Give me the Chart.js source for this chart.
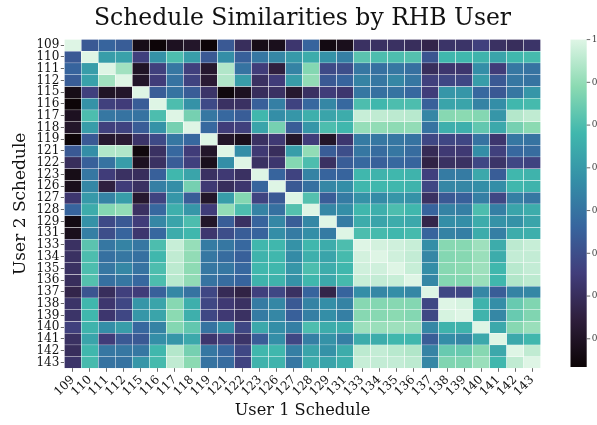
<!DOCTYPE html>
<html><head><meta charset="utf-8">
<script src="https://cdn.jsdelivr.net/npm/chart.js@4.4.1/dist/chart.umd.min.js"></script>
<style>html,body{margin:0;padding:0;background:#fff;}canvas{display:block;}</style>
</head><body>
<canvas id="c" width="597" height="425"></canvas>
<script>
const categories = ['109','110','111','112','115','116','117','118','119','121','122','123','126','127','128','129','131','133','134','135','136','137','138','139','140','141','142','143'];

// similarity rows (User 2 schedule), columns follow categories (User 1 schedule)
const r109 = [1.00,.53,.56,.54,.27,.24,.29,.31,.24,.53,.40,.27,.28,.43,.56,.26,.28,.41,.41,.41,.40,.37,.42,.42,.46,.41,.40,.42];
const r110 = [.53,1.00,.71,.72,.46,.68,.80,.71,.53,.67,.55,.61,.65,.70,.75,.68,.63,.82,.80,.80,.81,.52,.78,.78,.77,.73,.78,.79];
const r111 = [.56,.71,1.00,.92,.30,.46,.61,.46,.32,.94,.60,.45,.35,.64,.88,.49,.50,.61,.59,.61,.59,.40,.43,.43,.67,.45,.61,.60];
const r112 = [.54,.72,.92,1.00,.31,.45,.60,.47,.33,.94,.71,.41,.45,.71,.90,.53,.56,.64,.61,.65,.61,.46,.48,.48,.71,.53,.61,.60];
const r115 = [.27,.46,.30,.31,1.00,.54,.60,.54,.42,.25,.29,.40,.41,.32,.41,.45,.43,.61,.59,.60,.57,.45,.69,.69,.57,.53,.61,.69];
const r116 = [.24,.68,.46,.45,.54,1.00,.80,.68,.49,.41,.41,.55,.63,.47,.57,.65,.57,.80,.78,.80,.80,.55,.73,.73,.64,.67,.78,.79];
const r117 = [.29,.80,.61,.60,.60,.80,1.00,.86,.61,.57,.54,.78,.67,.69,.76,.73,.75,.97,.96,.955,.95,.65,.885,.89,.88,.69,.945,.96];
const r118 = [.31,.71,.46,.47,.54,.68,.86,1.00,.57,.45,.46,.73,.86,.54,.69,.80,.78,.905,.90,.895,.90,.60,.76,.76,.83,.74,.86,.89];
const r119 = [.24,.53,.32,.33,.42,.49,.61,.57,1.00,.31,.28,.41,.44,.31,.45,.31,.43,.62,.61,.61,.60,.48,.48,.48,.60,.43,.61,.60];
const r121 = [.53,.67,.94,.94,.25,.41,.57,.45,.31,1.00,.67,.44,.40,.71,.90,.54,.50,.61,.58,.61,.58,.39,.44,.44,.67,.46,.57,.58];
const r122 = [.40,.55,.60,.71,.29,.41,.54,.46,.28,.67,1.00,.41,.43,.88,.80,.41,.54,.57,.55,.57,.56,.36,.41,.41,.48,.42,.48,.47];
const r123 = [.27,.61,.45,.41,.40,.55,.78,.73,.41,.44,.41,1.00,.56,.47,.64,.56,.56,.78,.77,.78,.77,.46,.62,.62,.74,.54,.78,.77];
const r126 = [.28,.65,.35,.45,.41,.63,.67,.86,.44,.40,.43,.56,1.00,.53,.59,.65,.67,.78,.78,.78,.77,.48,.65,.65,.67,.67,.78,.77];
const r127 = [.43,.70,.64,.71,.32,.47,.69,.54,.31,.71,.88,.47,.53,1.00,.81,.54,.62,.68,.66,.69,.68,.41,.53,.55,.63,.48,.63,.61];
const r128 = [.56,.75,.88,.90,.41,.57,.76,.69,.45,.90,.80,.64,.59,.81,1.00,.65,.67,.78,.76,.80,.78,.56,.64,.63,.80,.63,.73,.75];
const r129 = [.26,.68,.49,.53,.45,.65,.73,.80,.31,.54,.41,.56,.65,.54,.65,1.00,.62,.75,.73,.75,.74,.37,.67,.67,.75,.68,.68,.73];
const r131 = [.28,.63,.50,.56,.43,.57,.75,.78,.43,.50,.54,.56,.67,.62,.67,.62,1.00,.80,.79,.78,.79,.56,.64,.63,.75,.63,.75,.76];
const r133 = [.41,.82,.61,.64,.61,.80,.97,.905,.62,.61,.57,.78,.78,.68,.78,.75,.80,1.00,.985,.98,.97,.67,.885,.885,.915,.75,.955,.97];
const r134 = [.41,.80,.59,.61,.59,.78,.96,.90,.61,.58,.55,.77,.78,.66,.76,.73,.79,.985,1.00,.98,.965,.65,.88,.885,.91,.75,.965,.965];
const r135 = [.41,.80,.61,.65,.60,.80,.955,.895,.61,.61,.57,.78,.78,.69,.80,.75,.78,.98,.98,1.00,.97,.67,.885,.89,.915,.78,.95,.965];
const r136 = [.40,.81,.59,.61,.57,.80,.95,.90,.60,.58,.56,.77,.77,.68,.78,.74,.79,.97,.965,.97,1.00,.65,.88,.88,.91,.78,.94,.955];
const r137 = [.37,.52,.40,.46,.45,.55,.65,.60,.48,.39,.36,.46,.48,.41,.56,.37,.56,.67,.65,.67,.65,1.00,.48,.48,.65,.54,.64,.65];
const r138 = [.42,.78,.43,.48,.69,.73,.885,.76,.48,.44,.41,.62,.65,.53,.64,.67,.64,.885,.88,.885,.88,.48,1.00,.99,.77,.67,.84,.875];
const r139 = [.42,.78,.43,.48,.69,.73,.89,.76,.48,.44,.41,.62,.65,.55,.63,.67,.63,.885,.885,.89,.88,.48,.99,1.00,.77,.65,.84,.875];
const r140 = [.46,.77,.67,.71,.57,.64,.88,.83,.60,.67,.48,.74,.67,.63,.80,.75,.75,.915,.91,.915,.91,.65,.77,.77,1.00,.74,.885,.91];
const r141 = [.41,.73,.45,.53,.53,.67,.69,.74,.43,.46,.42,.54,.67,.48,.63,.68,.63,.75,.75,.78,.78,.54,.67,.65,.74,1.00,.74,.78];
const r142 = [.40,.78,.61,.61,.61,.78,.945,.86,.61,.57,.48,.78,.78,.63,.73,.68,.75,.955,.965,.95,.94,.64,.84,.84,.885,.74,1.00,.96];
const r143 = [.42,.79,.60,.60,.69,.79,.96,.89,.60,.58,.47,.77,.77,.61,.75,.73,.76,.97,.965,.965,.955,.65,.875,.875,.91,.78,.96,1.00];

const rows = [r109,r110,r111,r112,r115,r116,r117,r118,r119,r121,r122,r123,r126,r127,r128,r129,r131,r133,r134,r135,r136,r137,r138,r139,r140,r141,r142,r143];
const colorbarTicks = [0.3,0.4,0.5,0.6,0.7,0.8,0.9,1.0];
const vmin = 0.234, vmax = 1.0;

// mako colormap (seaborn) approximation
const makoStops = [
  [0.000, 11, 4, 5],
  [0.143, 46, 30, 59],
  [0.286, 65, 61, 123],
  [0.429, 55, 101, 158],
  [0.571, 52, 143, 167],
  [0.714, 64, 183, 173],
  [0.857, 139, 218, 178],
  [1.000, 222, 245, 229]
];
function mako(t) {
  t = Math.max(0, Math.min(1, t));
  for (let i = 1; i < makoStops.length; i++) {
    const a = makoStops[i-1], b = makoStops[i];
    if (t <= b[0]) {
      const f = (t - a[0]) / (b[0] - a[0]);
      const c = [1,2,3].map(k => Math.round(a[k] + (b[k]-a[k]) * f));
      return `rgb(${c[0]},${c[1]},${c[2]})`;
    }
  }
  return 'rgb(222,245,229)';
}
const colorFor = v => mako((v - vmin) / (vmax - vmin));

const serif = "'DejaVu Serif', 'Liberation Serif', serif";

const datasets = rows.map((row, i) => ({
  label: categories[i],
  data: row.map(() => 1),
  similarity: row,
  backgroundColor: row.map(colorFor),
  borderColor: '#ffffff',
  borderWidth: 0.5,
  borderSkipped: false,
  yAxisID: 'y',
  xAxisID: 'x'
}));

const colorbarPlugin = {
  id: 'colorbar',
  afterDraw(chart) {
    const ctx = chart.ctx;
    const sc = chart.scales.cb;
    const top = sc.getPixelForValue(vmax) + 0.3, bottom = sc.getPixelForValue(vmin) - 1.3;
    const x0 = 570.5, w = 16.2;
    const g = ctx.createLinearGradient(0, bottom, 0, top);
    makoStops.forEach(s => g.addColorStop(s[0], `rgb(${s[1]},${s[2]},${s[3]})`));
    ctx.save();
    ctx.fillStyle = g;
    ctx.fillRect(x0, top, w, bottom - top);
    ctx.strokeStyle = '#444';
    ctx.lineWidth = 0.8;
    ctx.fillStyle = '#444';
    ctx.font = "9px " + serif;
    ctx.textAlign = 'left';
    ctx.textBaseline = 'middle';
    colorbarTicks.forEach(v => {
      const y = bottom - (v - vmin) / (vmax - vmin) * (bottom - top);
      ctx.beginPath();
      ctx.moveTo(x0 + w, y);
      ctx.lineTo(x0 + w + 3.5, y);
      ctx.stroke();
      ctx.fillText(v.toFixed(1), x0 + w + 5, y);
    });
    ctx.restore();
  }
};

new Chart(document.getElementById('c'), {
  type: 'bar',
  data: { labels: categories, datasets },
  options: {
    responsive: false,
    animation: false,
    devicePixelRatio: 1,
    layout: { padding: { left: 8, right: 0, top: 0, bottom: 0 } },
    plugins: {
      legend: { display: false },
      tooltip: { enabled: false },
      title: {
        display: true,
        text: 'Schedule Similarities by RHB User',
        color: '#111',
        font: { family: serif, size: 23.5, weight: 'normal', lineHeight: 1.2 },
        padding: { top: 4.3, bottom: 6.8 }
      }
    },
    datasets: { bar: { barPercentage: 1, categoryPercentage: 1 } },
    scales: {
      x: {
        type: 'category',
        stacked: true,
        offset: true,
        afterFit: s => { s.height = 56.7; },
        border: { display: false },
        grid: { display: true, offset: false, drawOnChartArea: false, drawTicks: true, tickLength: 3.5, tickColor: '#444', lineWidth: 0.8 },
        ticks: { autoSkip: false, minRotation: 45, maxRotation: 45, padding: 1, color: '#111', font: { family: serif, size: 12 } },
        title: { display: true, text: 'User 1 Schedule', color: '#111', font: { family: serif, size: 16.2, lineHeight: 1.2 }, padding: { top: 0, bottom: 4 } }
      },
      y: {
        type: 'linear',
        display: false,
        stacked: true,
        reverse: true,
        min: 0,
        max: categories.length
      },
      yl: {
        type: 'category',
        labels: categories,
        position: 'left',
        offset: true,
        afterFit: s => { s.width = 56.3; },
        border: { display: false },
        grid: { display: true, offset: false, drawOnChartArea: false, drawTicks: true, tickLength: 3.5, tickColor: '#444', lineWidth: 0.8 },
        ticks: { autoSkip: false, padding: 1.5, color: '#111', font: { family: serif, size: 12 } },
        title: { display: true, text: 'User 2 Schedule', color: '#111', font: { family: serif, size: 17, lineHeight: 1.2 }, padding: { top: 2, bottom: 0 } }
      },
      cb: {
        type: 'linear',
        position: 'right',
        min: vmin,
        max: vmax,
        afterFit: s => { s.width = 56.3; },
        border: { display: false },
        grid: { display: false },
        ticks: { display: false }
      }
    }
  },
  plugins: [colorbarPlugin]
});
</script>
</body></html>
